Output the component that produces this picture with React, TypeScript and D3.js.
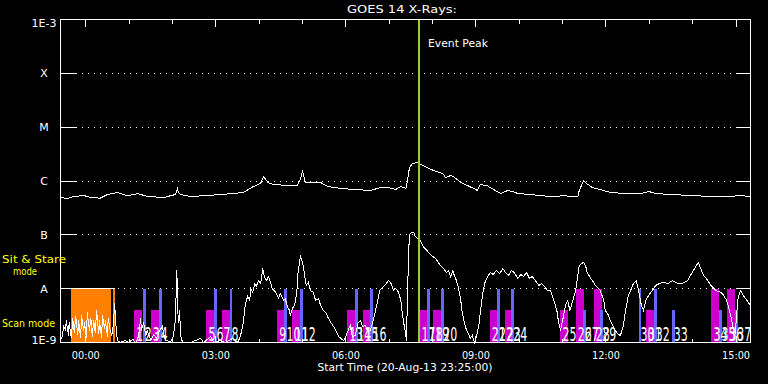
import React from "react";
import * as d3 from "d3";

// time in minutes since start (20-Aug-13 23:25:00), flux in W/m^2
const longChannel: [number, number][] = [[0,4.94e-7],[10,4.73e-7],[18,5.15e-7],[32,5.38e-7],[42,4.94e-7],[55,4.8e-7],[65,5.61e-7],[79,6.12e-7],[93,5.3e-7],[107,5.86e-7],[120,5.15e-7],[143,4.94e-7],[159,5.61e-7],[161,6.67e-7],[162,7.57e-7],[163,6.12e-7],[166,5.61e-7],[180,5.15e-7],[203,5.38e-7],[221,5.61e-7],[239,5.86e-7],[253,6.12e-7],[267,7.9e-7],[277,9.0e-7],[281,1.21e-6],[287,9.4e-7],[295,8.6e-7],[314,8.26e-7],[328,8.26e-7],[332,1.1e-6],[335,1.5e-6],[339,9.4e-7],[360,9.4e-7],[370,7.9e-7],[388,7.26e-7],[408,6.95e-7],[429,6.67e-7],[443,7.57e-7],[453,7.57e-7],[464,6.95e-7],[471,7.9e-7],[478,7.26e-7],[480,9.8e-7],[483,1.78e-6],[487,2.11e-6],[494,2.21e-6],[502,1.94e-6],[516,1.57e-6],[529,1.38e-6],[533,1.16e-6],[540,1.26e-6],[544,1.21e-6],[554,9.4e-7],[572,7.26e-7],[577,6.67e-7],[581,8.6e-7],[591,8.1e-7],[609,5.86e-7],[619,6.67e-7],[626,6.38e-7],[633,5.86e-7],[650,5.61e-7],[678,5.15e-7],[696,5.3e-7],[716,5.15e-7],[718,6.67e-7],[724,1.02e-6],[728,9.0e-7],[736,7.57e-7],[747,6.95e-7],[761,6.12e-7],[782,5.86e-7],[803,5.86e-7],[814,6.38e-7],[824,5.86e-7],[844,5.61e-7],[872,5.38e-7],[900,5.15e-7],[927,5.15e-7],[941,5.38e-7],[955,5.15e-7]];

const shortChannel: [number, number][] = [[0,1.09e-9],[3,1.35e-9],[4,2.07e-9],[7,1.67e-9],[8,2.56e-9],[11,1.35e-9],[12,2.35e-9],[15,1.19e-9],[17,2.79e-9],[19,1.53e-9],[21,3.04e-9],[24,1.41e-9],[25,2.56e-9],[28,1.19e-9],[29,3.18e-9],[32,1.67e-9],[33,2.35e-9],[36,1.19e-9],[37,3.61e-9],[40,1.67e-9],[42,2.79e-9],[44,1.29e-9],[46,2.56e-9],[48,1.53e-9],[50,3.93e-9],[53,1.41e-9],[54,2.56e-9],[57,1.19e-9],[58,3.18e-9],[61,1.82e-9],[62,2.56e-9],[65,1.29e-9],[66,2.79e-9],[69,1.67e-9],[71,1.35e-9],[73,2.07e-9],[75,5.31e-9],[76,2.79e-9],[78,1.35e-9],[79,1.09e-9],[83,1.0e-9],[89,1.09e-9],[94,1.0e-9],[100,1.14e-9],[104,1.0e-9],[108,1.29e-9],[111,2.79e-9],[112,1.67e-9],[115,2.35e-9],[118,1.35e-9],[120,1.67e-9],[125,1.09e-9],[129,1.41e-9],[133,1.19e-9],[137,1.67e-9],[141,1.98e-9],[144,1.19e-9],[147,1.09e-9],[152,1.0e-9],[156,1.29e-9],[159,2.56e-9],[161,2.18e-8],[162,6.03e-9],[163,2.35e-9],[165,3.93e-9],[166,1.35e-9],[169,1.0e-9],[180,1.0e-9],[187,1.09e-9],[194,1.19e-9],[198,1.0e-9],[208,1.29e-9],[212,1.0e-9],[221,1.09e-9],[228,1.0e-9],[238,1.19e-9],[245,1.0e-9],[249,1.29e-9],[253,2.35e-9],[256,5.31e-9],[259,7.16e-9],[262,6.03e-9],[263,1.01e-8],[266,8.49e-9],[269,1.25e-8],[271,1.1e-8],[274,1.42e-8],[277,1.25e-8],[280,2.37e-8],[282,1.68e-8],[285,1.42e-8],[288,1.68e-8],[291,1.25e-8],[293,1.01e-8],[298,8.49e-9],[302,6.57e-9],[304,8.14e-9],[309,6.03e-9],[311,6.57e-9],[314,4.67e-9],[317,3.93e-9],[318,3.18e-9],[321,4.29e-9],[324,4.87e-9],[327,8.49e-9],[329,2.18e-8],[331,3.06e-8],[332,4.13e-8],[335,3.06e-8],[338,1.76e-8],[340,1.15e-8],[343,1.3e-8],[346,9.25e-9],[350,8.49e-9],[353,6.03e-9],[357,6.57e-9],[360,4.87e-9],[364,3.93e-9],[367,3.61e-9],[371,2.79e-9],[374,2.35e-9],[378,1.98e-9],[381,1.67e-9],[385,1.29e-9],[388,1.19e-9],[392,1.09e-9],[394,1.19e-9],[399,1.82e-9],[401,2.07e-9],[404,1.29e-9],[408,1.35e-9],[412,2.35e-9],[415,2.56e-9],[418,1.98e-9],[422,2.07e-9],[426,1.53e-9],[429,1.67e-9],[432,2.35e-9],[436,3.93e-9],[439,6.03e-9],[442,9.25e-9],[444,1.01e-8],[447,1.1e-8],[450,1.2e-8],[454,1.42e-8],[457,1.3e-8],[461,9.25e-9],[464,1.01e-8],[468,8.49e-9],[471,6.03e-9],[473,3.61e-9],[475,2.35e-9],[478,1.35e-9],[479,1.09e-9],[480,6.03e-9],[482,5.12e-8],[483,1.02e-7],[486,1.11e-7],[489,1.11e-7],[491,9.3e-8],[494,8.55e-8],[498,7.85e-8],[502,6.08e-8],[507,5.12e-8],[511,4.5e-8],[515,3.96e-8],[519,3.64e-8],[523,3.06e-8],[526,2.7e-8],[530,2.37e-8],[534,2.0e-8],[537,2.18e-8],[540,1.68e-8],[543,2.18e-8],[545,1.76e-8],[548,1.42e-8],[551,1.01e-8],[554,6.03e-9],[556,3.61e-9],[559,2.35e-9],[562,1.67e-9],[565,1.41e-9],[567,1.19e-9],[570,1.35e-9],[573,1.0e-9],[576,1.35e-9],[579,2.07e-9],[581,3.61e-9],[584,7.47e-9],[587,1.25e-8],[590,1.55e-8],[592,1.76e-8],[595,2.0e-8],[599,1.83e-8],[603,2.18e-8],[608,1.9e-8],[612,2.37e-8],[616,2.0e-8],[620,1.76e-8],[624,2.18e-8],[628,2.0e-8],[633,1.55e-8],[637,1.83e-8],[641,1.68e-8],[645,2.0e-8],[649,1.55e-8],[653,1.68e-8],[657,1.42e-8],[662,1.15e-8],[666,1.25e-8],[670,1.1e-8],[674,9.25e-9],[678,9.25e-9],[682,6.57e-9],[687,3.93e-9],[689,2.56e-9],[692,1.67e-9],[695,2.56e-9],[699,4.87e-9],[702,6.03e-9],[705,3.93e-9],[709,6.03e-9],[713,9.25e-9],[716,1.76e-8],[718,2.7e-8],[721,2.94e-8],[724,3.06e-8],[727,2.58e-8],[729,2.0e-8],[734,1.55e-8],[738,1.3e-8],[740,1.15e-8],[745,1.01e-8],[747,9.25e-9],[752,6.03e-9],[754,3.93e-9],[758,3.29e-9],[761,2.56e-9],[765,1.98e-9],[768,1.67e-9],[772,1.41e-9],[775,1.35e-9],[779,2.07e-9],[782,3.93e-9],[786,7.47e-9],[789,9.25e-9],[793,1.25e-8],[797,1.42e-8],[800,9.25e-9],[804,4.87e-9],[807,3.93e-9],[810,6.03e-9],[814,7.47e-9],[819,9.25e-9],[824,1.15e-8],[829,1.25e-8],[834,1.3e-8],[841,1.25e-8],[847,1.42e-8],[854,1.25e-8],[861,1.25e-8],[868,1.42e-8],[872,1.76e-8],[876,2.18e-8],[880,2.7e-8],[883,3.06e-8],[886,2.37e-8],[890,1.76e-8],[896,1.42e-8],[900,1.15e-8],[907,9.25e-9],[914,8.49e-9],[918,7.47e-9],[922,6.03e-9],[926,3.93e-9],[929,2.56e-9],[932,1.53e-9],[933,1.19e-9],[936,3.18e-9],[937,6.03e-9],[941,9.25e-9],[945,7.47e-9],[950,6.03e-9],[955,4.87e-9]];

// observation bars: start minute, type (M = magenta, B = blue), top flux level
const obsStart = [102,114,125,136,202,213,223,234,300,310,321,331,397,408,418,429,497,507,516,527,594,604,615,624,692,713,723,738,747,800,810,821,846,901,912,923,934];
const obsType = ["M","B","M","B","M","B","M","B","M","B","M","B","M","B","M","B","M","B","M","B","M","B","M","B","M","M","B","M","B","B","M","B","B","M","B","M","B"];
const obsTop = [4e-9,1e-8,4e-9,1e-8,4e-9,1e-8,4e-9,1e-8,4e-9,1e-8,4e-9,1e-8,4e-9,1e-8,4e-9,1e-8,4e-9,1e-8,4e-9,1e-8,4e-9,1e-8,4e-9,1e-8,4e-9,1e-8,4e-9,1e-8,4e-9,1e-8,4e-9,1e-8,4e-9,1e-8,4e-9,1e-8,4e-9];
const obsDuration = { M: 11, B: 4 };

// sit & stare block (minutes)
const stareBlocks: [number, number][] = [[14, 70.5], [72, 75]];

const eventPeak = 495.5;

const yLevels = [1e-3, 1e-4, 1e-5, 1e-6, 1e-7, 1e-8, 1e-9];
const yLabels = ["1E-3", "X", "M", "C", "B", "A", "1E-9"];
const gridLevels = [1e-4, 1e-5, 1e-6, 1e-7, 1e-8];

const hourTicks = [35,95,155,215,275,335,395,455,515,575,635,695,755,815,875,935];
const majorTicks = [35, 215, 395, 575, 755, 935];
const majorLabels = ["00:00", "03:00", "06:00", "09:00", "12:00", "15:00"];

const FONT = "DejaVu Sans, sans-serif";

export default function App() {
  const x = d3.scaleLinear().domain([0, 955]).range([60.5, 750.5]);
  const y = d3.scaleLog().domain([1e-9, 1e-3]).range([342.5, 19.5]).clamp(true);
  const line = d3.line<[number, number]>().x((d) => x(d[0])).y((d) => y(d[1]));
  const x0 = x.range()[0], x1 = x.range()[1];
  const yb = y(1e-9), yt = y(1e-3);
  const crisp = "crispEdges";

  return (
    <svg width={768} height={384} style={{ position: "absolute", left: 0, top: 0, display: "block", background: "#000" }}>
      <rect x={0} y={0} width={768} height={384} fill="#000" />
      {/* title */}
      <text x={402} y={13} fill="#fff" fontFamily={FONT} fontSize={11} textAnchor="middle" textLength={110} lengthAdjust="spacingAndGlyphs">GOES 14 X-Rays:</text>

      {/* grid */}
      {gridLevels.map((g, i) => (
        <line key={"g" + i} x1={x0 + 15} x2={x1 - 14} y1={y(g)} y2={y(g)} stroke="#fff" strokeWidth={1} strokeDasharray="1,5" shapeRendering={crisp} />
      ))}

      {/* stare blocks */}
      {stareBlocks.map((b, i) => (
        <g key={"s" + i} shapeRendering={crisp}>
          <rect x={x(b[0])} y={y(1e-8)} width={x(b[1]) - x(b[0])} height={yb - y(1e-8)} fill="#ff8000" />
          <line x1={x(b[0]) - 10} x2={x(b[1])} y1={y(1e-8)} y2={y(1e-8)} stroke="#fff" />
        </g>
      ))}

      {/* observation bars */}
      {obsStart.map((s, i) => {
        const t = obsType[i] as "M" | "B";
        const top = y(obsTop[i]);
        return (
          <rect key={"o" + i} x={x(s)} y={top} width={x(s + obsDuration[t]) - x(s)} height={yb - top} fill={t === "M" ? "#cc00cc" : "#6666ff"} shapeRendering={crisp} />
        );
      })}

      {/* data */}
      <path d={line(longChannel) || ""} fill="none" stroke="#fff" strokeWidth={1} shapeRendering={crisp} />
      <path d={line(shortChannel) || ""} fill="none" stroke="#fff" strokeWidth={1} shapeRendering={crisp} />

      {/* event peak */}
      <line x1={x(eventPeak)} x2={x(eventPeak)} y1={yt} y2={yb} stroke="#9acd32" strokeWidth={2} shapeRendering={crisp} />
      <text x={428} y={47} fill="#fff" fontFamily={FONT} fontSize={11} textLength={60} lengthAdjust="spacingAndGlyphs">Event Peak</text>

      {/* observation numbers */}
      {obsStart.map((s, i) => {
        const label = String(i + 1);
        return (
          <text key={"n" + i} x={x(s) + 2} y={341} fill="#fff" fontFamily={FONT} fontSize={19} textLength={7 * label.length} lengthAdjust="spacingAndGlyphs">{label}</text>
        );
      })}

      {/* frame */}
      <rect x={x0} y={yt} width={x1 - x0} height={yb - yt} fill="none" stroke="#fff" strokeWidth={1} shapeRendering={crisp} />

      {/* y ticks */}
      {yLevels.map((v, i) => (
        <g key={"yt" + i}>
          <line x1={x0} x2={x0 + 15} y1={y(v)} y2={y(v)} stroke="#fff" shapeRendering={crisp} />
          <line x1={x1 - 14} x2={x1} y1={y(v)} y2={y(v)} stroke="#fff" shapeRendering={crisp} />
          <text x={44} y={i === 0 ? 27 : i === yLevels.length - 1 ? 344 : y(v) + 4} fill="#fff" fontFamily={FONT} fontSize={11} textAnchor="middle">{yLabels[i]}</text>
        </g>
      ))}

      {/* x ticks */}
      {hourTicks.map((t, i) => {
        const major = majorTicks.includes(t);
        const len = major ? 7 : 4;
        return (
          <g key={"xt" + i} shapeRendering={crisp}>
            <line x1={x(t)} x2={x(t)} y1={yt} y2={yt + len} stroke="#fff" />
            <line x1={x(t)} x2={x(t)} y1={yb} y2={yb - len} stroke="#fff" />
          </g>
        );
      })}
      {majorTicks.map((t, i) => (
        <text key={"xl" + i} x={x(t)} y={359} fill="#fff" fontFamily={FONT} fontSize={11} textAnchor="middle" textLength={28} lengthAdjust="spacingAndGlyphs">{majorLabels[i]}</text>
      ))}
      <text x={405} y={371} fill="#fff" fontFamily={FONT} fontSize={11} textAnchor="middle" textLength={175} lengthAdjust="spacingAndGlyphs">Start Time (20-Aug-13 23:25:00)</text>

      {/* mode labels */}
      <text x={2} y={263} fill="#ffff00" fontFamily={FONT} fontSize={11} textLength={64} lengthAdjust="spacingAndGlyphs">Sit &amp; Stare</text>
      <text x={13} y={275} fill="#ffff00" fontFamily={FONT} fontSize={11} textLength={24} lengthAdjust="spacingAndGlyphs">mode</text>
      <text x={2} y={327} fill="#ffff00" fontFamily={FONT} fontSize={11} textLength={53} lengthAdjust="spacingAndGlyphs">Scan mode</text>
    </svg>
  );
}
